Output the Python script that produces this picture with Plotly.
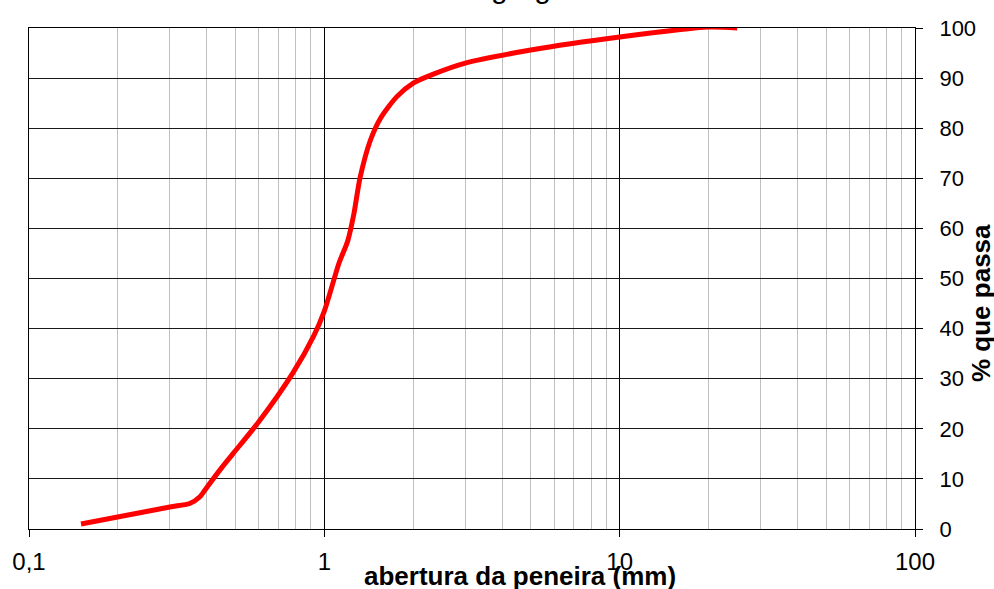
import plotly.graph_objects as go

# Data (sieve opening in mm, % passing)
abertura_mm = [0.15, 0.30, 0.35, 0.38, 0.40, 0.45, 0.49, 0.60, 0.78, 0.92, 1.00, 1.12,
               1.20, 1.26, 1.32, 1.43, 1.55, 1.76, 2.00, 2.34, 3.00, 5.00, 10.0, 20.0, 25.0]
pct_passa = [1.0, 4.4, 5.1, 6.5, 8.3, 12.3, 15.0, 21.4, 31.0, 38.5, 43.5, 53.0,
             57.5, 63.0, 70.0, 77.5, 82.0, 86.3, 89.0, 90.8, 93.0, 95.6, 98.2, 100.2, 100.0]

x_tickvals = [0.1, 1, 10, 100]
x_ticktext = ["0,1", "1", "10", "100"]
x_minor = [m * d for d in (0.1, 1, 10) for m in range(2, 10)]
y_tickvals = [0, 10, 20, 30, 40, 50, 60, 70, 80, 90, 100]

titulo = "Agregado"
x_titulo = "abertura da peneira (mm)"
y_titulo = "% que passa"

FONT = "Liberation Sans, Arial, sans-serif"

fig = go.Figure()
fig.add_trace(go.Scatter(
    x=abertura_mm, y=pct_passa, mode="lines",
    line=dict(color="#ff0000", width=5, shape="spline", smoothing=0.7),
    showlegend=False, hoverinfo="skip"))

W, H = 994, 589
L, R, T, B = 29, 79, 28, 60
pw, ph = W - L - R, H - T - B

def px_x(px):
    return (px - L) / pw

def px_y(py):
    return (H - B - py) / ph

fig.update_layout(
    width=W, height=H,
    margin=dict(l=L, r=R, t=T, b=B, autoexpand=False),
    paper_bgcolor="white", plot_bgcolor="white",
    font=dict(family=FONT, color="black", size=22),
    xaxis=dict(
        type="log", range=[-1, 2], automargin=False,
        tickmode="array", tickvals=x_tickvals, ticktext=x_ticktext,
        ticks="outside", ticklen=7, tickcolor="black", tickwidth=1,
        showgrid=True, gridcolor="black", gridwidth=1,
        minor=dict(tickmode="array", tickvals=x_minor, showgrid=True,
                   gridcolor="#c0c0c0", gridwidth=1, ticks=""),
        showline=True, linecolor="black", linewidth=1, mirror=True,
        tickfont=dict(size=24, family=FONT),
        ticklabelstandoff=4,
        zeroline=False, fixedrange=True),
    yaxis=dict(
        side="right", range=[0, 100], automargin=False,
        tickmode="array", tickvals=y_tickvals,
        ticks="outside", ticklen=7, tickcolor="black", tickwidth=1,
        showgrid=True, gridcolor="#1a1a1a", gridwidth=1,
        showline=True, linecolor="black", linewidth=1, mirror=True,
        tickfont=dict(size=22, family=FONT),
        ticklabelstandoff=12,
        zeroline=False, fixedrange=True),
    annotations=[
        dict(text="<b>" + x_titulo + "</b>", xref="paper", yref="paper",
             x=px_x(520), y=px_y(576), xanchor="center", yanchor="middle",
             showarrow=False, font=dict(size=26, family=FONT, color="black")),
        dict(text="<b>" + y_titulo + "</b>", xref="paper", yref="paper",
             x=px_x(981), y=px_y(303), xanchor="center", yanchor="middle",
             textangle=-90, showarrow=False,
             font=dict(size=26, family=FONT, color="black")),
        dict(text=titulo, xref="paper", yref="paper",
             x=px_x(536), y=px_y(-13), xanchor="center", yanchor="middle",
             showarrow=False, font=dict(size=30, family=FONT, color="black")),
    ],
)

fig.write_html(
    "out.html",
    config={"displayModeBar": False},
    post_script="document.body.style.margin='0';document.body.style.overflow='hidden';",
)
